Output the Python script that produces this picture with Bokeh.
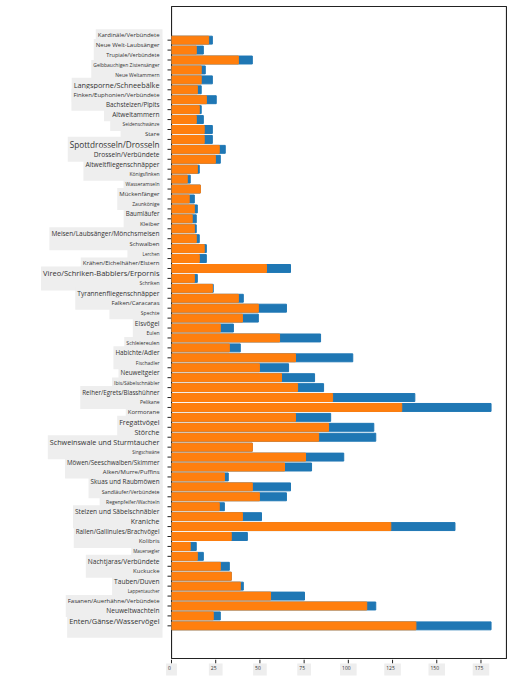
from bokeh.plotting import figure
from bokeh.layouts import row, column
from bokeh.models import Range1d, ColumnDataSource
from bokeh.core.properties import value
from bokeh.embed import file_html
from bokeh.resources import INLINE

# Categories, top to bottom as shown
categories = [
    "Kardinäle/Verbündete", "Neue Welt-Laubsänger", "Trupiale/Verbündete",
    "Gelbbauchigen Zistensänger", "Neue Weltammern", "Langsporne/Schneebälke",
    "Finken/Euphonien/Verbündete", "Bachstelzen/Pipits", "Altweltammern",
    "Seidenschwänze", "Stare", "Spottdrosseln/Drosseln", "Drosseln/Verbündete",
    "Altweltfliegenschnäpper", "Königsfinken", "Wasseramseln", "Mückenfänger",
    "Zaunkönige", "Baumläufer", "Kleiber", "Meisen/Laubsänger/Mönchsmeisen",
    "Schwalben", "Lerchen", "Krähen/Eichelhäher/Elstern",
    "Vireo/Schriken-Babblers/Erpornis", "Schriken", "Tyrannenfliegenschnäpper",
    "Falken/Caracaras", "Spechte", "Eisvögel", "Eulen", "Schleiereulen",
    "Habichte/Adler", "Fischadler", "Neuweltgeier", "Ibis/Säbelschnäbler",
    "Reiher/Egrets/Blasshühner", "Pelikane", "Kormorane", "Fregattvögel",
    "Störche", "Schweinswale und Sturmtaucher", "Singschwäne",
    "Möwen/Seeschwalben/Skimmer", "Alken/Murre/Puffins", "Skuas und Raubmöwen",
    "Sandläufer/Verbündete", "Regenpfeifer/Wachteln", "Stelzen und Säbelschnäbler",
    "Kraniche", "Rallen/Gallinules/Brachvögel", "Kolibris", "Mauersegler",
    "Nachtjaras/Verbündete", "Kuckucke", "Tauben/Duven", "Lappentaucher",
    "Fasanen/Auerhähne/Verbündete", "Neuweltwachteln", "Enten/Gänse/Wasservögel",
]

# Smaller value (orange) and larger value (blue), same order
min_values = [
    21.0, 14.0, 37.8, 16.8, 16.8, 14.6, 19.7, 15.7, 14.0, 18.5, 18.5, 27.0, 24.8,
    14.6, 8.9, 16.3, 10.0, 12.9, 11.7, 12.9, 14.0, 18.5, 15.7, 53.7, 12.9, 23.1,
    37.8, 49.1, 40.1, 27.6, 61.1, 32.7, 70.1, 49.7, 62.2, 71.3, 91.1, 130.2,
    70.1, 88.8, 83.2, 45.7, 75.8, 63.9, 29.9, 45.7, 49.7, 27.0, 40.1, 124.0,
    33.8, 10.6, 14.6, 27.6, 33.8, 38.9, 56.0, 110.4, 23.6, 138.2,
]
max_values = [
    23.1, 18.0, 45.7, 19.1, 23.1, 16.8, 25.3, 16.8, 18.0, 23.1, 23.1, 30.4, 27.6,
    15.7, 10.6, 16.3, 12.9, 14.6, 14.0, 14.0, 15.7, 19.7, 19.7, 67.3, 14.6, 23.6,
    40.6, 65.0, 49.1, 35.0, 84.3, 38.9, 102.5, 66.2, 80.9, 86.0, 137.6, 180.7,
    90.0, 114.4, 115.5, 45.7, 97.4, 79.2, 32.1, 67.3, 65.0, 29.9, 50.9, 160.3,
    42.9, 14.0, 18.0, 32.7, 33.8, 40.6, 75.2, 115.5, 27.6, 180.7,
]

x_ticks = [0, 25, 50, 75, 100, 125, 150, 175]
x_tick_labels = ["0", "25", "50", "75", "100", "125", "150", "175"]

# label font sizes in px (style)
label_sizes = [
    6, 6, 5.5, 5, 5, 7.3, 6, 6.3, 6.6, 4.8, 6, 8.2, 6.6,
    6.6, 5, 5, 6, 5, 6.2, 6, 6.5, 6, 4.5, 6, 7.5, 5, 6.6,
    6, 5, 6.6, 5, 5.3, 6.3, 5, 6.3, 5, 6.2, 5, 6, 7,
    7, 7.2, 4.5, 6.2, 6, 6.3, 5.3, 5, 6.6, 7, 6.3, 6, 4.5,
    6.6, 6, 6.6, 4.5, 6, 6.6, 7.4,
]

n = len(categories)
ypos = [n - 1 - i for i in range(n)]

X_MAX = 190
y_range = Range1d(-3.39, n - 1 + 3.39)
x_range = Range1d(0, X_MAX)
TOP = 6
FRAME_H = 653
FRAME_W = 336
LABEL_W = 171
BOTTOM_H = 20

src = ColumnDataSource(dict(
    y=ypos, cat=categories, mn=min_values, mx=max_values,
    size=[f"{s}px" for s in label_sizes],
    x=[LABEL_W - 9] * n,
    t0=[LABEL_W - 4] * n, t1=[LABEL_W] * n,
))

# label panel (left)
lp = figure(frame_width=LABEL_W, frame_height=FRAME_H,
            y_range=y_range, x_range=Range1d(0, LABEL_W), output_backend="svg",
            toolbar_location=None, min_border_left=0, min_border_right=0,
            min_border_top=TOP, min_border_bottom=0)
lp.axis.visible = False
lp.grid.visible = False
lp.outline_line_color = None
lp.text(x="x", y="y", text="cat", source=src, text_align="right",
        text_baseline="middle", text_font_size="size",
        text_font=value("Open Sans"), text_color="#333333",
        background_fill_color="#eeeeee", padding=(2, 3, 2, 12))
lp.segment(x0="t0", y0="y", x1="t1", y1="y", source=src,
           line_color="#222222", line_width=1)

# main plot
p = figure(frame_width=FRAME_W, frame_height=FRAME_H, y_range=y_range,
           x_range=x_range, output_backend="svg",
           toolbar_location=None, min_border_left=0, min_border_right=0,
           min_border_top=TOP, min_border_bottom=0)
p.hbar(y="y", left=0, right="mx", height=0.8, source=src, color="#1f77b4")
p.hbar(y="y", left=0, right="mn", height=0.8, source=src, color="#ff7f0e")
p.axis.visible = False
p.grid.visible = False
p.outline_line_color = "#222222"
p.outline_line_width = 1.2

# bottom panel with x ticks and labels, spanning the full width
unit_per_px = X_MAX / FRAME_W
tsrc = ColumnDataSource(dict(
    x=x_ticks, lab=x_tick_labels,
    ty0=[BOTTOM_H] * len(x_ticks), ty1=[BOTTOM_H - 4] * len(x_ticks),
    ly=[BOTTOM_H - 10] * len(x_ticks),
))
bp = figure(frame_width=LABEL_W + FRAME_W, frame_height=BOTTOM_H,
            x_range=Range1d(-LABEL_W * unit_per_px, X_MAX),
            y_range=Range1d(0, BOTTOM_H), output_backend="svg",
            toolbar_location=None, min_border_left=0, min_border_right=0,
            min_border_top=0, min_border_bottom=0)
bp.axis.visible = False
bp.grid.visible = False
bp.outline_line_color = None
bp.segment(x0="x", y0="ty0", x1="x", y1="ty1", source=tsrc,
           line_color="#222222", line_width=1)
bp.text(x="x", y="ly", text="lab", source=tsrc, text_align="center",
        text_baseline="middle", text_font_size="5px",
        text_font=value("Open Sans"), text_color="#333333",
        background_fill_color="#eeeeee", padding=(2, 6, 2, 6))

layout = column(row(lp, p, spacing=0), bp, spacing=0)
open("out.html", "w").write(file_html(layout, INLINE))
